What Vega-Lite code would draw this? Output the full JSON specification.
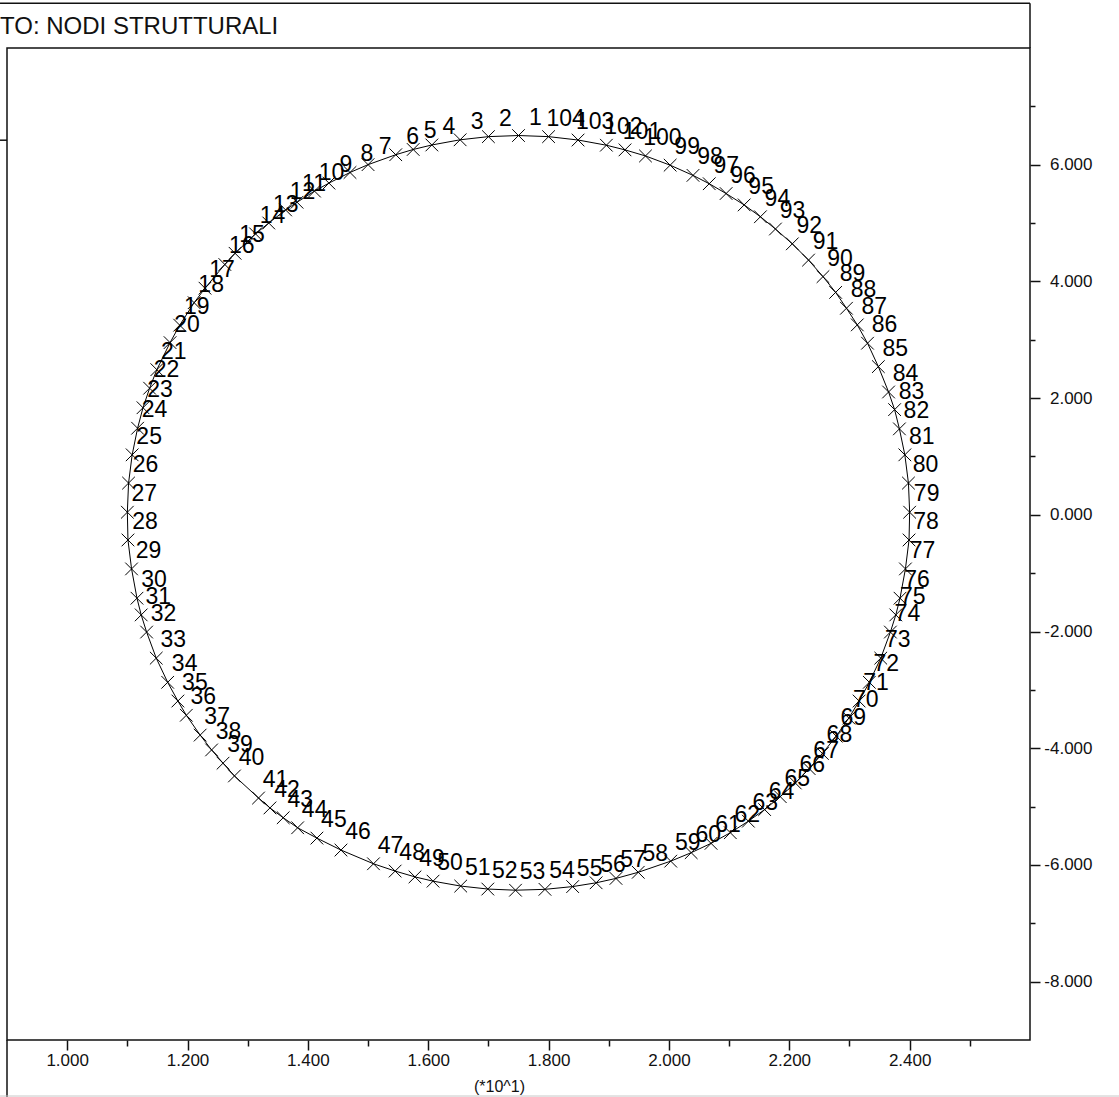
{
  "$schema": "https://vega.github.io/schema/vega-lite/v6.json",
  "width": 1023,
  "height": 992,
  "autosize": {"type": "none"},
  "padding": {"left": 7, "top": 48, "right": 89, "bottom": 57},
  "background": "white",
  "config": {"view": {"stroke": "#111", "strokeWidth": 1.5}, "font": "Liberation Sans"},
  "datasets": {
    "nodes": [
      {"n":1,"x":1.750,"y":6.500},{"n":2,"x":1.700,"y":6.481},{"n":3,"x":1.653,"y":6.427},{"n":4,"x":1.606,"y":6.338},
      {"n":5,"x":1.575,"y":6.261},{"n":6,"x":1.546,"y":6.171},{"n":7,"x":1.500,"y":6.001},{"n":8,"x":1.470,"y":5.867},
      {"n":9,"x":1.435,"y":5.685},{"n":10,"x":1.411,"y":5.548},{"n":11,"x":1.382,"y":5.357},{"n":12,"x":1.363,"y":5.225},
      {"n":13,"x":1.335,"y":5.001},{"n":14,"x":1.313,"y":4.815},{"n":15,"x":1.279,"y":4.482},{"n":16,"x":1.262,"y":4.290},
      {"n":17,"x":1.229,"y":3.884},{"n":18,"x":1.211,"y":3.635},{"n":19,"x":1.187,"y":3.250},{"n":20,"x":1.171,"y":2.951},
      {"n":21,"x":1.149,"y":2.487},{"n":22,"x":1.137,"y":2.170},{"n":23,"x":1.126,"y":1.835},{"n":24,"x":1.117,"y":1.484},
      {"n":25,"x":1.108,"y":1.028},{"n":26,"x":1.102,"y":0.544},{"n":27,"x":1.100,"y":0.045},{"n":28,"x":1.101,"y":-0.431},
      {"n":29,"x":1.107,"y":-0.927},{"n":30,"x":1.116,"y":-1.429},{"n":31,"x":1.123,"y":-1.715},{"n":32,"x":1.132,"y":-2.009},
      {"n":33,"x":1.148,"y":-2.456},{"n":34,"x":1.167,"y":-2.870},{"n":35,"x":1.184,"y":-3.191},{"n":36,"x":1.198,"y":-3.435},
      {"n":37,"x":1.221,"y":-3.775},{"n":38,"x":1.240,"y":-4.029},{"n":39,"x":1.259,"y":-4.256},{"n":40,"x":1.278,"y":-4.475},
      {"n":41,"x":1.318,"y":-4.853},{"n":42,"x":1.337,"y":-5.023},{"n":43,"x":1.359,"y":-5.191},{"n":44,"x":1.383,"y":-5.363},
      {"n":45,"x":1.415,"y":-5.540},{"n":46,"x":1.455,"y":-5.745},{"n":47,"x":1.509,"y":-5.980},{"n":48,"x":1.545,"y":-6.105},
      {"n":49,"x":1.578,"y":-6.205},{"n":50,"x":1.608,"y":-6.278},{"n":51,"x":1.654,"y":-6.362},{"n":52,"x":1.699,"y":-6.413},
      {"n":53,"x":1.745,"y":-6.433},{"n":54,"x":1.794,"y":-6.418},{"n":55,"x":1.840,"y":-6.371},{"n":56,"x":1.879,"y":-6.306},
      {"n":57,"x":1.912,"y":-6.231},{"n":58,"x":1.949,"y":-6.126},{"n":59,"x":2.003,"y":-5.935},{"n":60,"x":2.037,"y":-5.790},
      {"n":61,"x":2.070,"y":-5.630},{"n":62,"x":2.102,"y":-5.448},{"n":63,"x":2.132,"y":-5.250},{"n":64,"x":2.159,"y":-5.051},
      {"n":65,"x":2.185,"y":-4.830},{"n":66,"x":2.210,"y":-4.596},{"n":67,"x":2.233,"y":-4.349},{"n":68,"x":2.255,"y":-4.090},
      {"n":69,"x":2.278,"y":-3.793},{"n":70,"x":2.299,"y":-3.483},{"n":71,"x":2.316,"y":-3.191},{"n":72,"x":2.333,"y":-2.870},
      {"n":73,"x":2.352,"y":-2.456},{"n":74,"x":2.368,"y":-2.009},{"n":75,"x":2.377,"y":-1.715},{"n":76,"x":2.384,"y":-1.429},
      {"n":77,"x":2.393,"y":-0.927},{"n":78,"x":2.399,"y":-0.431},{"n":79,"x":2.400,"y":0.045},{"n":80,"x":2.398,"y":0.544},
      {"n":81,"x":2.392,"y":1.028},{"n":82,"x":2.383,"y":1.473},{"n":83,"x":2.375,"y":1.803},{"n":84,"x":2.365,"y":2.105},
      {"n":85,"x":2.348,"y":2.540},{"n":86,"x":2.330,"y":2.941},{"n":87,"x":2.313,"y":3.255},{"n":88,"x":2.295,"y":3.540},
      {"n":89,"x":2.277,"y":3.812},{"n":90,"x":2.256,"y":4.082},{"n":91,"x":2.232,"y":4.366},{"n":92,"x":2.205,"y":4.644},
      {"n":93,"x":2.177,"y":4.898},{"n":94,"x":2.152,"y":5.108},{"n":95,"x":2.125,"y":5.311},{"n":96,"x":2.095,"y":5.506},
      {"n":97,"x":2.067,"y":5.674},{"n":98,"x":2.040,"y":5.817},{"n":99,"x":2.002,"y":5.992},{"n":100,"x":1.961,"y":6.150},
      {"n":101,"x":1.927,"y":6.254},{"n":102,"x":1.896,"y":6.334},{"n":103,"x":1.849,"y":6.423},{"n":104,"x":1.800,"y":6.481}
    ]
  },
  "data": {"name": "nodes"},
  "layer": [
    {
      "mark": {"type": "line", "interpolate": "linear-closed", "color": "#000", "strokeWidth": 1},
      "encoding": {
        "x": {"field": "x", "type": "quantitative", "scale": {"domain": [0.9, 2.6], "nice": false, "zero": false},
          "axis": {
            "orient": "bottom", "values": [1.0,1.1,1.2,1.3,1.4,1.5,1.6,1.7,1.8,1.9,2.0,2.1,2.2,2.3,2.4,2.5],
            "domain": false, "grid": false, "tickColor": "#111", "tickWidth": 1.5,
            "tickSize": {"condition": {"test": "round(datum.value*10)%2!=0", "value": 6}, "value": 10},
            "labelExpr": "round(datum.value*10)%2==0 ? format(datum.value,'.3f') : ''",
            "labelFont": "Liberation Sans", "labelFontSize": 17, "labelColor": "#111", "labelPadding": 2,
            "labelDx": -7, "labelBaseline": "top", "labelAngle": 0, "labelOverlap": false, "labelFlush": false,
            "title": "(*10^1)", "titleFont": "Liberation Sans", "titleFontSize": 16, "titleFontWeight": "normal",
            "titleColor": "#111", "titleX": 492, "titleY": 46, "titleAlign": "center", "titleBaseline": "middle"
          }},
        "y": {"field": "y", "type": "quantitative", "scale": {"domain": [-9, 8], "nice": false, "zero": false},
          "axis": {
            "orient": "right", "values": [-8,-7,-6,-5,-4,-3,-2,-1,0,1,2,3,4,5,6,7],
            "domain": false, "grid": false, "tickColor": "#111", "tickWidth": 1.5,
            "tickSize": {"condition": {"test": "abs(round(datum.value))%2==1", "value": 5}, "value": 10},
            "labelExpr": "abs(round(datum.value))%2==0 ? (datum.value<0?'-':'')+format(abs(datum.value),'.3f') : ''",
            "labelFont": "Liberation Sans", "labelFontSize": 17, "labelColor": "#111",
            "labelAlign": "right", "labelPadding": 52, "labelDy": -6, "labelBaseline": "middle",
            "labelOverlap": false, "labelFlush": false, "title": null
          }},
        "order": {"field": "n", "type": "quantitative"}
      }
    },
    {
      "mark": {"type": "point", "shape": "M-1,-1L1,1M-1,1L1,-1", "size": 160, "filled": false, "stroke": "#000", "strokeWidth": 1, "opacity": 1},
      "encoding": {
        "x": {"field": "x", "type": "quantitative"},
        "y": {"field": "y", "type": "quantitative"}
      }
    },
    {
      "mark": {"type": "text", "dx": 17, "dy": -18, "fontSize": 23, "align": "center", "baseline": "middle", "color": "#000", "font": "Liberation Sans"},
      "encoding": {
        "x": {"field": "x", "type": "quantitative"},
        "y": {"field": "y", "type": "quantitative"},
        "text": {"field": "n", "type": "nominal"}
      }
    },
    {
      "data": {"values": [{"label": "TO: NODI STRUTTURALI"}]},
      "mark": {"type": "text", "clip": false, "align": "left", "baseline": "alphabetic", "fontSize": 24, "color": "#111", "font": "Liberation Sans"},
      "encoding": {"x": {"datum": 0.8884, "type": "quantitative"}, "y": {"datum": 8.24, "type": "quantitative"}, "text": {"field": "label", "type": "nominal"}}
    },
    {
      "data": {"values": [{}]},
      "mark": {"type": "rule", "clip": false, "color": "#111", "strokeWidth": 1.5},
      "encoding": {"x": {"datum": 0.8884, "type": "quantitative"}, "x2": {"datum": 2.6}, "y": {"datum": 8.766, "type": "quantitative"}}
    },
    {
      "data": {"values": [{}]},
      "mark": {"type": "rule", "clip": false, "color": "#111", "strokeWidth": 1.5},
      "encoding": {"x": {"datum": 2.6, "type": "quantitative"}, "y": {"datum": 8, "type": "quantitative"}, "y2": {"datum": 8.766}}
    },
    {
      "data": {"values": [{}]},
      "mark": {"type": "rule", "clip": false, "color": "#111", "strokeWidth": 1.5},
      "encoding": {"x": {"datum": 0.9, "type": "quantitative"}, "y": {"datum": -9, "type": "quantitative"}, "y2": {"datum": -10}}
    },
    {
      "data": {"values": [{}]},
      "mark": {"type": "rule", "clip": false, "color": "#111", "strokeWidth": 1.5},
      "encoding": {"x": {"datum": 0.8884, "type": "quantitative"}, "x2": {"datum": 0.9}, "y": {"datum": 6.42, "type": "quantitative"}}
    },
    {
      "data": {"values": [{}]},
      "mark": {"type": "rule", "clip": false, "color": "#c8c8c8", "strokeWidth": 1},
      "encoding": {"x": {"datum": 0.8884, "type": "quantitative"}, "x2": {"datum": 2.748}, "y": {"datum": -9.96, "type": "quantitative"}}
    }
  ]
}
